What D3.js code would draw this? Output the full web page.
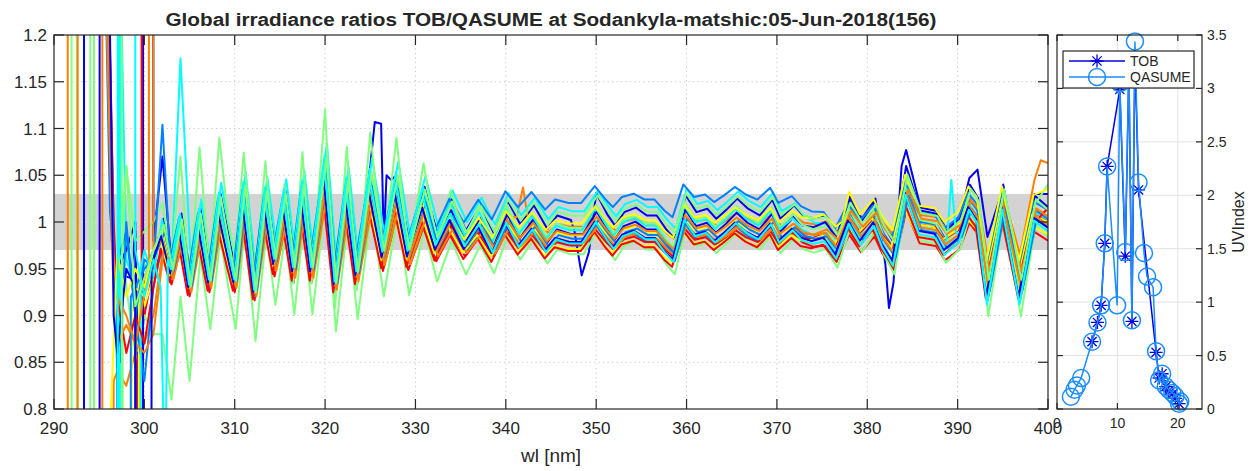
<!DOCTYPE html>
<html><head><meta charset="utf-8">
<script src="https://cdn.jsdelivr.net/npm/d3@7"></script>
<style>
body{margin:0;background:#fff;}
text{font-family:"Liberation Sans",Arial,Helvetica,sans-serif;fill:#262626;}
</style>
</head><body>
<svg id="chart" width="1260" height="471"></svg>
<script>
// ---------------- DATA ----------------
const titleText = "Global irradiance ratios TOB/QASUME at Sodankyla-matshic:05-Jun-2018(156)";
const xTicks = [290,300,310,320,330,340,350,360,370,380,390,400];
const yTicks = [0.8,0.85,0.9,0.95,1,1.05,1.1,1.15,1.2];
const yTickLabels = ["0.8","0.85","0.9","0.95","1","1.05","1.1","1.15","1.2"];
const bandLow = 0.97, bandHigh = 1.03;

// bundle centre at wavelength nodes
const wlNodes = [302.0,303.0,304.0,305.0,306.1,307.2,308.3,309.3,310.0,311.0,312.2,313.4,314.4,315.5,316.5,317.5,318.5,320.0,321.1,322.4,323.5,325.0,326.4,327.9,329.2,330.9,332.3,333.9,335.5,337.1,338.6,340.1,341.5,343.0,344.5,345.6,347.1,348.5,350.0,351.2,352.0,353.0,354.3,355.5,356.6,357.7,358.6,359.8,361.0,362.2,363.2,364.3,365.5,366.7,368.0,369.4,370.3,371.8,372.8,374.0,375.3,376.6,378.0,379.3,380.8,381.7,382.9,384.3,385.8,387.6,388.6,390.2,391.3,392.2,393.3,395.0,396.9,398.5,400.0];
const baseRatio = [0.985,0.945,0.99,0.93,0.995,0.935,1.01,0.965,0.935,1.02,0.925,1.015,0.955,1.013,0.947,1.021,0.947,1.045,0.933,1.024,0.943,1.032,0.962,1.029,0.963,1.016,0.972,1.004,0.975,0.998,0.973,1.003,0.982,0.999,0.978,0.99,0.986,0.986,1.006,0.99,0.981,0.993,0.997,0.99,0.99,0.977,0.969,1.008,0.993,0.996,0.987,0.995,1.005,0.996,0.99,1.004,0.987,0.999,0.99,0.987,0.99,0.974,1.007,0.987,1.005,0.985,0.968,1.034,0.997,0.994,0.978,0.99,1.02,1.008,0.932,1.02,0.932,1.01,1.0];

// per-series properties (21 scans)
const seriesColors = ["#0000ee","#0080ff","#00ffff","#80ff80","#ffff00","#ff8000","#ff0000"];
const seriesColorIdx = [0,1,2,3,4,5,6,0,1,2,3,4,5,6,0,1,2,3,4,5,6];
const offsetUV   = [0.02,0.015,0.03,0.035,0.0,-0.01,-0.015,0.01,0.005,0.01,-0.03,-0.005,-0.012,-0.02,0.0,-0.005,0.02,0.015,0.01,-0.005,-0.004];
const offsetMid  = [0.019,0.033,0.027,0.011,0.011,0.006,-0.017,0.004,-0.004,-0.007,-0.017,-0.017,-0.01,-0.008,-0.006,-0.011,0.008,0.022,-0.003,0.0,-0.013];
const offsetLong = [0.019,0.013,0.0,0.006,0.02,0.01,-0.013,0.016,-0.006,-0.01,-0.016,0.0,0.006,-0.02,-0.006,0.003,-0.004,0.013,-0.013,-0.003,0.0];
const ampUV  = [1.1,1.0,1.2,1.9,1.0,0.9,0.9,1.1,1.05,1.1,1.3,0.95,0.9,0.85,1.0,1.0,1.15,1.2,0.9,0.95,0.9];
const ampVis = [1.2,0.9,1.1,1.25,0.9,0.8,1.0,1.2,1.0,1.15,1.25,0.85,0.85,0.95,1.1,1.0,1.2,1.1,0.8,0.95,0.85];
const wlShift = [0.1,-0.15,0.2,0.0,-0.1,0.15,-0.2,0.05,0.25,-0.05,0.1,-0.25,0.2,0.0,-0.15,0.1,-0.05,0.15,-0.2,0.05,-0.1];
const drawOrder = [0,13,5,10,2,18,7,15,3,20,11,1,16,6,12,8,19,4,14,9,17];

// noisy short-wavelength part of each scan: [wl, ratio] (off-scale values drawn clipped)
const earlyPoints = [
 [[293.3,9],[293.35,-9],[295.0,-9],[295.05,1.5],[296.6,0.95],[297,0.945],[298.5,0.94],[299,0.99],[299.4,0.8],[300,0.93],[301,0.96]],
 [[295.0,1.6],[296.2,1.01],[296.8,0.95],[298,0.99],[299,0.9],[300,0.96],[301,0.95],[302,1.104]],
 [[297.2,-9],[297.3,1.3],[298,0.96],[299,0.93],[300,0.95],[301,0.97],[302,0.99],[303,0.95],[304,1.175]],
 [[291.9,9],[292,-9],[294.4,-9],[294.45,9],[297.4,9],[297.5,1.0],[298,1.06],[299,0.98],[300,0.99],[301,1.0],[302,1.02],[303,0.96],[304,1.07],[305,0.93],[306.1,1.08],[307.2,0.95],[308.3,1.09],[309.3,1.0],[310,0.965],[311,1.074],[312.2,0.935],[313.4,1.065],[314.4,0.95],[315.5,1.04]],
 [[296.2,-9],[296.3,0.8],[297,0.965],[298,0.92],[299,0.95],[300,0.93],[301,0.97]],
 [[291.5,9],[291.55,-9],[296.3,-9],[296.6,0.83],[297,0.84],[298,0.825],[299,0.86],[300,0.87],[301,0.9]],
 [[295.5,1.5],[296.6,1.0],[297,0.92],[298,0.86],[299,0.9],[300,0.87],[301,0.93]],
 [[295.3,1.6],[296.4,0.98],[297,0.95],[298,0.97],[299,1.0],[299.1,-9],[299.8,-9],[299.9,9],[300.5,9],[301,0.98],[302,1.07]],
 [[295.0,1.6],[296.6,0.97],[297,0.84],[297.1,-9],[298.4,-9],[298.5,0.92],[299,0.93],[300,0.95],[301,0.96]],
 [[297,-9],[297.1,9],[298.8,9],[299,0.97],[300,0.92],[301,0.96],[301.8,0.93],[302.3,0.7],[302.6,0.96]],
 [[292.5,9],[292.55,-9],[297.5,-9],[297.6,1.0],[298,0.93],[299,0.86],[300,0.9],[301,0.88],[302,0.88],[303,0.81],[304,0.92],[305,0.83]],
 [[298.5,-9],[298.6,0.9],[299,0.93],[300,0.92],[301,0.95]],
 [[292.6,9],[292.65,-9],[295.3,-9],[295.35,1.4],[296.5,0.95],[297,0.87],[298,0.89],[299,0.87],[300,0.86],[301,0.88]],
 [[299.0,-9],[299.2,0.85],[300,0.9],[301,0.95]],
 [[295.8,1.5],[296.6,0.9],[297,0.86],[298,0.95],[299,0.93],[299.9,-9],[300.3,-9],[300.8,0.95],[301,0.96]],
 [[295.5,1.5],[296.8,0.9],[297.3,0.85],[298,1.0],[299,0.9],[300,0.83],[301,0.93]],
 [[296.6,9],[297.2,0.84],[297.3,-9],[299.5,-9],[299.6,0.95],[300,0.97],[301,0.94]],
 [[294.0,9],[294.05,-9],[297.4,-9],[297.5,0.96],[298,1.06],[299,0.91],[300,0.94],[301,0.97]],
 [[299.3,-9],[299.4,0.95],[300,0.91],[301,0.94]],
 [[295.6,1.4],[296.5,0.97],[297,0.92],[298,0.9],[299,0.87],[300.5,0.95],[300.6,9],[300.9,9],[301,0.97]],
 [[299.6,9],[299.7,0.9],[300,0.94],[301,0.97]]
];

// individual features of single scans: [series, wl, ratio]
const overrides = [
 [0,325.0,1.06],[0,325.5,1.107],[0,326.2,1.105],[0,326.8,1.05],[0,327.3,1.045],[0,327.9,1.05],
 [0,347.6,0.99],[0,348.4,0.943],[0,349.2,0.968],[0,350.0,1.031],
 [0,382.0,0.955],[0,382.4,0.908],[0,382.9,0.935],[0,383.8,1.06],[0,384.3,1.077],
 [0,391.3,1.047],[0,392.2,1.056],[0,393.3,0.984],[0,395.0,1.035],[0,398.5,1.03],[0,400.0,1.03],
 [5,341.2,1.005],[5,341.9,1.037],[5,342.6,0.995],
 [5,396.9,0.965],[5,398.5,1.045],[5,399.2,1.066],[5,400.0,1.063],
 [16,388.9,0.99],[16,389.3,1.045],[16,389.8,0.99],
 [7,384.3,1.06],
 [4,377.2,1.0],[4,378.0,1.032],[4,400.0,1.035],
 [3,400.0,1.04],[6,400.0,1.015]
];

// UV index time series (hour UTC)
const uvTobHour = [5.8,6.7,7.3,7.9,8.3,10.4,11.3,11.9,12.4,12.9,13.5,16.4,16.9,17.4,18.0,18.5,19.1,19.6,20.2];
const uvTob     = [0.63,0.81,0.97,1.55,2.27,2.99,1.43,3.2,0.82,3.3,2.05,0.53,0.29,0.33,0.21,0.17,0.14,0.1,0.05];
const uvQasHour = [2.3,2.9,3.3,4.0,5.8,6.7,7.3,7.9,8.3,9.95,10.4,11.3,11.9,12.4,12.9,13.5,14.4,14.9,15.9,16.4,16.9,17.4,18.0,18.5,19.1,19.6,20.2,20.4];
const uvQas     = [0.115,0.18,0.22,0.29,0.63,0.81,0.97,1.55,2.27,0.97,3.05,1.47,3.25,0.83,3.44,2.12,1.46,1.24,1.14,0.54,0.27,0.33,0.21,0.18,0.15,0.12,0.05,0.07];
const uvXTicks = [0,10,20];
const uvYTicks = [0,0.5,1,1.5,2,2.5,3,3.5];
const tobColor = "#0000e6", qasColor = "#1a8cff";

// ---------------- BUILD SERIES ----------------
function blend3(a,b,c,w){
  if (w <= 330) return a;
  if (w < 342) { const t=(w-330)/12; return a*(1-t)+b*t; }
  if (w <= 370) return b;
  if (w < 378) { const t=(w-370)/8; return b*(1-t)+c*t; }
  return c;
}
function buildSeries(i){
  const pts = earlyPoints[i].map(d=>[d[0],d[1]]);
  const lastEarly = d3.max(pts, d=>d[0]);
  wlNodes.forEach((w,j)=>{
    if (w <= lastEarly + 1e-6) return;
    const off = blend3(offsetUV[i], offsetMid[i], offsetLong[i], w);
    const amp = blend3(ampUV[i], ampVis[i], ampVis[i], w);
    const ws = (j === wlNodes.length-1) ? w : w + wlShift[i];
    pts.push([ws, 1 + (baseRatio[j]-1)*amp + off]);
  });
  overrides.filter(o=>o[0]===i).forEach(o=>{
    const k = pts.findIndex(p=>Math.abs(p[0]-o[1])<0.3);
    if (k>=0) pts[k]=[o[1],o[2]]; else pts.push([o[1],o[2]]);
  });
  pts.sort((a,b)=>a[0]-b[0]);
  return pts;
}
const series = seriesColorIdx.map((c,i)=>({color:seriesColors[c], pts:buildSeries(i)}));

// ---------------- DRAW ----------------
const svg = d3.select("#chart");
const axisColor = "#262626";
const M = {l:54, r:1048, t:35, b:409};
const x = d3.scaleLinear().domain([290,400]).range([M.l,M.r]);
const y = d3.scaleLinear().domain([0.8,1.2]).range([M.b,M.t]);

svg.append("defs").append("clipPath").attr("id","clipMain")
  .append("rect").attr("x",M.l).attr("y",M.t).attr("width",M.r-M.l).attr("height",M.b-M.t);

// band
svg.append("rect").attr("x",M.l).attr("width",M.r-M.l)
  .attr("y",y(bandHigh)).attr("height",y(bandLow)-y(bandHigh)).attr("fill","#d3d3d3");

// grid
const grid = svg.append("g").attr("stroke","#c4c4c4").attr("stroke-width",1).attr("stroke-dasharray","1.2,3.3");
xTicks.slice(1,-1).forEach(v=>grid.append("line").attr("x1",x(v)).attr("x2",x(v)).attr("y1",M.t).attr("y2",M.b));
yTicks.slice(1,-1).forEach(v=>grid.append("line").attr("y1",y(v)).attr("y2",y(v)).attr("x1",M.l).attr("x2",M.r)
  .attr("stroke", (v>bandLow && v<bandHigh) ? "#ececec" : "#c4c4c4"));

// lines
const line = d3.line().x(d=>x(d[0])).y(d=>y(d[1]));
const lg = svg.append("g").attr("clip-path","url(#clipMain)");
drawOrder.forEach(i=>{
  const s = series[i];
  lg.append("path").attr("d",line(s.pts)).attr("fill","none").attr("stroke",s.color)
    .attr("stroke-width",2).attr("stroke-linejoin","round");
});

// axes box & ticks
svg.append("rect").attr("x",M.l).attr("y",M.t).attr("width",M.r-M.l).attr("height",M.b-M.t)
  .attr("fill","none").attr("stroke",axisColor).attr("stroke-width",1.2);
const tk = svg.append("g").attr("stroke",axisColor).attr("stroke-width",1.2);
const tl = 10;
xTicks.forEach(v=>{
  tk.append("line").attr("x1",x(v)).attr("x2",x(v)).attr("y1",M.b).attr("y2",M.b-tl);
  tk.append("line").attr("x1",x(v)).attr("x2",x(v)).attr("y1",M.t).attr("y2",M.t+tl);
});
yTicks.forEach(v=>{
  tk.append("line").attr("y1",y(v)).attr("y2",y(v)).attr("x1",M.l).attr("x2",M.l+tl);
  tk.append("line").attr("y1",y(v)).attr("y2",y(v)).attr("x1",M.r).attr("x2",M.r-tl);
});
xTicks.forEach(v=>svg.append("text").attr("x",x(v)).attr("y",M.b+25).attr("text-anchor","middle")
  .attr("font-size",17).text(v));
yTicks.forEach((v,i)=>svg.append("text").attr("x",M.l-7).attr("y",y(v)+6).attr("text-anchor","end")
  .attr("font-size",17).text(yTickLabels[i]));
svg.append("text").attr("x",(M.l+M.r)/2).attr("y",462).attr("text-anchor","middle")
  .attr("font-size",19).text("wl [nm]");
svg.append("text").attr("x",(M.l+M.r)/2).attr("y",26).attr("text-anchor","middle")
  .attr("font-size",18).attr("font-weight","bold").attr("fill","#000")
  .attr("textLength",771).attr("lengthAdjust","spacingAndGlyphs").text(titleText);

// ---------------- UV PANEL ----------------
const P = {l:1057, r:1202, t:35, b:409};
const ux = d3.scaleLinear().domain([0,24]).range([P.l,P.r]);
const uy = d3.scaleLinear().domain([0,3.5]).range([P.b,P.t]);
const ug = svg.append("g").attr("stroke","#e3e3e3").attr("stroke-width",1);
uvXTicks.slice(1).forEach(v=>ug.append("line").attr("x1",ux(v)).attr("x2",ux(v)).attr("y1",P.t).attr("y2",P.b));
uvYTicks.slice(1,-1).forEach(v=>ug.append("line").attr("y1",uy(v)).attr("y2",uy(v)).attr("x1",P.l).attr("x2",P.r));

const uline = d3.line().x(d=>ux(d[0])).y(d=>uy(d[1]));
const tobPts = uvTobHour.map((h,i)=>[h,uvTob[i]]);
const qasPts = uvQasHour.map((h,i)=>[h,uvQas[i]]);
function asterisk(g, cx, cy, r, color){
  const a = r*0.7071;
  const p = `M${cx-r},${cy}L${cx+r},${cy}M${cx},${cy-r}L${cx},${cy+r}M${cx-a},${cy-a}L${cx+a},${cy+a}M${cx-a},${cy+a}L${cx+a},${cy-a}`;
  g.append("path").attr("d",p).attr("stroke",color).attr("stroke-width",1.3).attr("fill","none");
}
const up = svg.append("g");
up.append("path").attr("d",uline(tobPts)).attr("fill","none").attr("stroke",tobColor).attr("stroke-width",1.5);
tobPts.forEach(p=>asterisk(up, ux(p[0]), uy(p[1]), 6.5, tobColor));
up.append("path").attr("d",uline(qasPts)).attr("fill","none").attr("stroke",qasColor).attr("stroke-width",1.5);
qasPts.forEach(p=>up.append("circle").attr("cx",ux(p[0])).attr("cy",uy(p[1])).attr("r",8.5)
  .attr("fill","none").attr("stroke",qasColor).attr("stroke-width",1.5));

svg.append("rect").attr("x",P.l).attr("y",P.t).attr("width",P.r-P.l).attr("height",P.b-P.t)
  .attr("fill","none").attr("stroke",axisColor).attr("stroke-width",1.2);
const ut = svg.append("g").attr("stroke",axisColor).attr("stroke-width",1.2);
const utl = 6;
uvXTicks.forEach(v=>{
  ut.append("line").attr("x1",ux(v)).attr("x2",ux(v)).attr("y1",P.b).attr("y2",P.b-utl);
  ut.append("line").attr("x1",ux(v)).attr("x2",ux(v)).attr("y1",P.t).attr("y2",P.t+utl);
});
uvYTicks.forEach(v=>{
  ut.append("line").attr("y1",uy(v)).attr("y2",uy(v)).attr("x1",P.r).attr("x2",P.r-utl);
  ut.append("line").attr("y1",uy(v)).attr("y2",uy(v)).attr("x1",P.l).attr("x2",P.l+utl);
});
uvXTicks.forEach(v=>svg.append("text").attr("x",ux(v)).attr("y",P.b+19).attr("text-anchor","middle")
  .attr("font-size",14).text(v));
uvYTicks.forEach(v=>svg.append("text").attr("x",P.r+5).attr("y",uy(v)+5).attr("text-anchor","start")
  .attr("font-size",14).text(v));
svg.append("text").attr("transform",`translate(1244,${(P.t+P.b)/2}) rotate(-90)`).attr("text-anchor","middle")
  .attr("font-size",16).text("UVIndex");

// legend
const L = svg.append("g");
L.append("rect").attr("x",1063).attr("y",51).attr("width",131).attr("height",37)
  .attr("fill","#fff").attr("stroke",axisColor).attr("stroke-width",1.2);
L.append("line").attr("x1",1069).attr("x2",1125).attr("y1",61).attr("y2",61).attr("stroke",tobColor).attr("stroke-width",1.5);
asterisk(L,1097,61,6.5,tobColor);
L.append("text").attr("x",1130).attr("y",66).attr("font-size",14).text("TOB");
L.append("line").attr("x1",1069).attr("x2",1125).attr("y1",77).attr("y2",77).attr("stroke",qasColor).attr("stroke-width",1.5);
L.append("circle").attr("cx",1097).attr("cy",77).attr("r",8.5).attr("fill","none").attr("stroke",qasColor).attr("stroke-width",1.5);
L.append("text").attr("x",1130).attr("y",82).attr("font-size",14).text("QASUME");
</script>
</body></html>
